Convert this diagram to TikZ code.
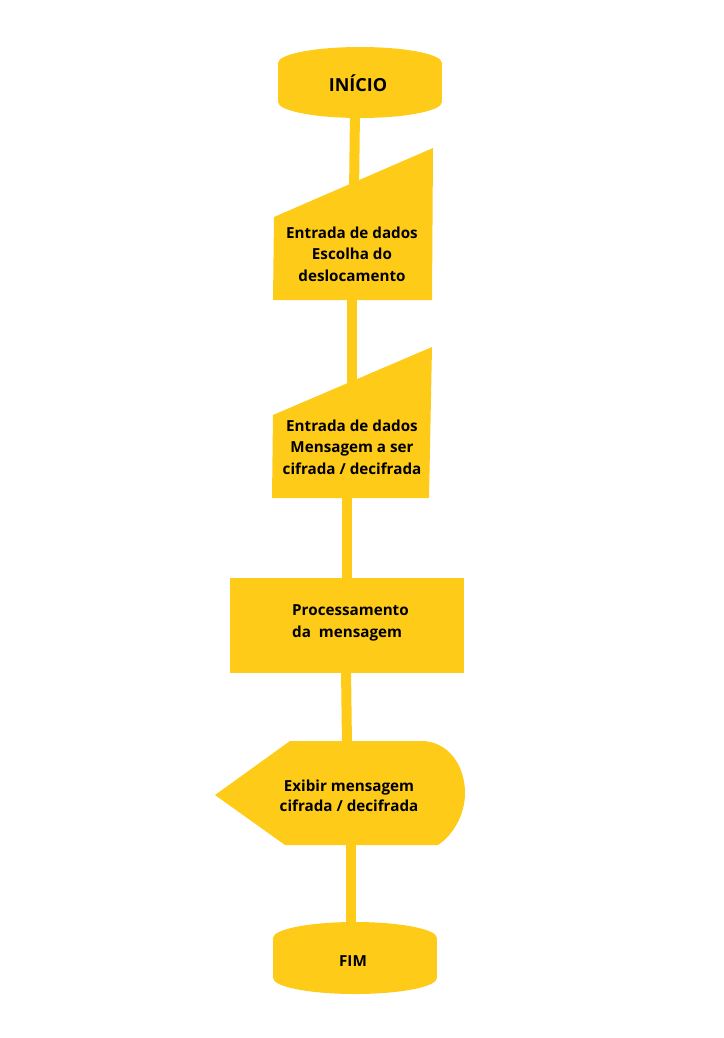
\documentclass[tikz,border=0pt]{standalone}
\usepackage{fontspec}
\setmainfont{Open Sans}
\definecolor{amarelo}{RGB}{254,203,24}
\tikzset{
  conector/.style={amarelo, line width=10pt},
  rotulo/.style={font=\bfseries\fontsize{15.2}{21.5}\selectfont, align=center, text=black, inner sep=0pt},
}
\begin{document}
\begin{tikzpicture}[x=1pt,y=-1pt]
\useasboundingbox (0,0) rectangle (723,1038);
% Pontos de ligacao
\coordinate (inicio-s) at (355,110);
\coordinate (entrada1-n) at (354,195);
\coordinate (entrada1-s) at (352,295);
\coordinate (entrada2-n) at (352,390);
\coordinate (entrada2-s) at (347,495);
\coordinate (proc-n) at (347,582);
\coordinate (proc-s) at (346,668);
\coordinate (exibir-n) at (347,746);
\coordinate (exibir-s) at (351,840);
\coordinate (fim-n) at (351,928);
% Conectores
\draw[conector] (inicio-s) -- (entrada1-n);
\draw[conector] (entrada1-s) -- (entrada2-n);
\draw[conector] (entrada2-s) -- (proc-n);
\draw[conector] (proc-s) -- (exibir-n);
\draw[conector] (exibir-s) -- (fim-n);
% Inicio
\fill[amarelo] (360,63) ellipse[x radius=82, y radius=16];
\fill[amarelo] (278,63) rectangle (442,102);
\fill[amarelo] (360,102) ellipse[x radius=82, y radius=16];
\node[rotulo, font=\bfseries\fontsize{18}{20}\selectfont] (inicio) at (358,83) {INÍCIO};
% Entrada de dados 1
\fill[amarelo] (274,217) -- (433,148) -- (432,300) -- (273,300) -- cycle;
\node[rotulo] (entrada1) at (352,254) {Entrada de dados\\Escolha do\\deslocamento};
% Entrada de dados 2
\fill[amarelo] (273,415) -- (432,347) -- (429,498) -- (272,498) -- cycle;
\node[rotulo] (entrada2) at (352,447) {Entrada de dados\\Mensagem a ser\\cifrada / decifrada};
% Processamento
\fill[amarelo] (230,578) rectangle (464,673);
\node[rotulo, align=left, anchor=west, font=\bfseries\fontsize{15.2}{22.5}\selectfont] (proc) at (292,623) {Processamento\\da~~mensagem};
% Exibir
\fill[amarelo] (215,795) -- (290,741) -- (421,741)
  .. controls (448,741) and (465,765) .. (465,793)
  .. controls (465,815) and (453,835) .. (438,845) -- (285,845) -- cycle;
\node[rotulo, font=\bfseries\fontsize{15.2}{20.5}\selectfont] (exibir) at (349,796) {Exibir mensagem\\cifrada / decifrada};
% Fim
\fill[amarelo] (355,938) ellipse[x radius=82, y radius=16];
\fill[amarelo] (273,938) rectangle (437,978);
\fill[amarelo] (355,978) ellipse[x radius=82, y radius=16];
\node[rotulo] (fim) at (353,961) {FIM};
\end{tikzpicture}
\end{document}
